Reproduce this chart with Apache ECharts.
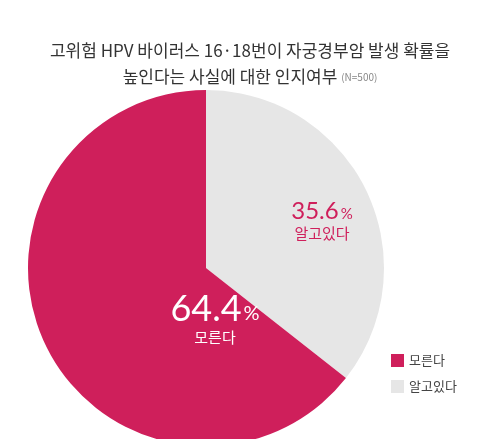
<!DOCTYPE html>
<html>
<head>
<meta charset="utf-8" />
<script src="https://cdn.jsdelivr.net/npm/echarts@6/dist/echarts.min.js"></script>
<style>html,body{margin:0;background:#fff;}</style>
</head>
<body>
<div id="main" style="width:500px;height:439px;"></div>
<script>
    // 데이터
    var names = ['알고있다', '모른다'];
    var values = [35.6, 64.4];
    var legendOrder = ['모른다', '알고있다'];
    var colors = ['#e6e6e6', '#cf1f5b'];
    var labelPos = [[322, 220], [215, 318]];

    var chart = echarts.init(document.getElementById('main'));
    var font = '"Noto Sans CJK KR", sans-serif';
    chart.setOption({
        animation: false,
        title: {
            text: '고위험 HPV 바이러스 16·18번이 자궁경부암 발생 확률을\n높인다는 사실에 대한 인지여부 {n|(N=500)}',
            left: 'center', top: 33,
            textStyle: { fontFamily: font, fontSize: 17, fontWeight: 'normal', color: '#333', lineHeight: 26,
                rich: { n: { fontSize: 10, color: '#888', fontFamily: font } } }
        },
        legend: {
            data: legendOrder, orient: 'vertical', left: 386, top: 349,
            itemWidth: 13, itemHeight: 13, itemGap: 13, icon: 'rect',
            textStyle: { fontFamily: font, fontSize: 13, color: '#444' }
        },
        series: [{
            type: 'pie', center: [206, 268], radius: 178, startAngle: 90, clockwise: true,
            silent: true,
            data: names.map(function (n, i) {
                var big = i === 1;
                var c = big ? '#fff' : '#cf1f5b';
                return {
                    name: n, value: values[i], itemStyle: { color: colors[i] },
                    label: {
                        formatter: '{v|' + values[i] + '}{p|%}\n{t|' + n + '}',
                        rich: {
                            v: { fontSize: big ? 36 : 24, color: c, fontFamily: 'Lato, sans-serif', padding: [0, 0, 0, 0] },
                            p: { fontSize: big ? 20 : 15, color: c, fontFamily: 'Lato, sans-serif', padding: [big ? 8 : 5, 0, 0, 2] },
                            t: { fontSize: big ? 15 : 15, color: c, fontFamily: font, align: 'center', padding: [2, 0, 0, 0] }
                        }
                    }
                };
            }),
            label: { show: true, position: 'inside', align: 'center' },
            labelLine: { show: false },
            labelLayout: function (p) {
                return { x: labelPos[p.dataIndex][0], y: labelPos[p.dataIndex][1], align: 'center', verticalAlign: 'middle' };
            }
        }]
    });
</script>
</body>
</html>
